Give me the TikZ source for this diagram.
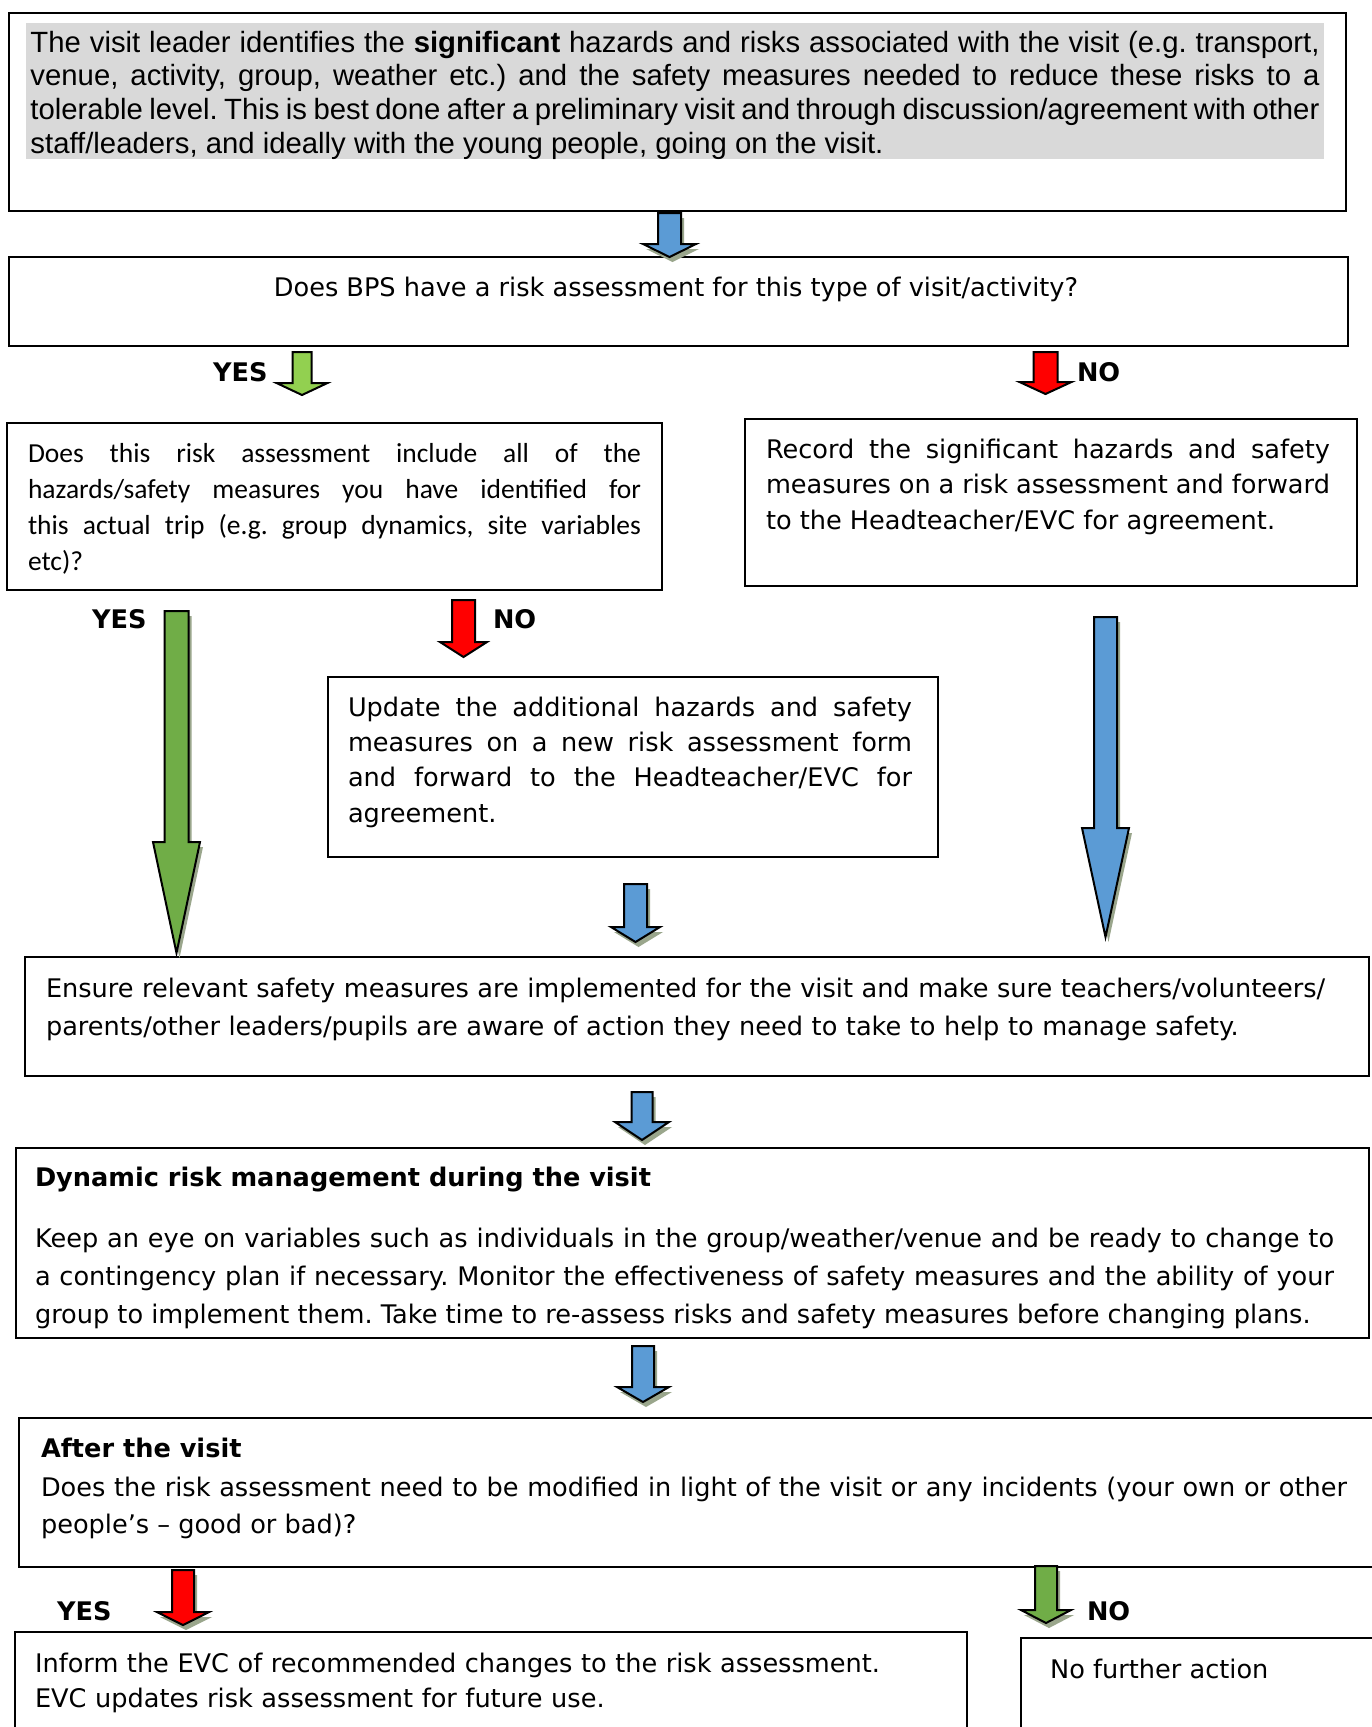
\documentclass[tikz,border=0pt]{standalone}
\usepackage{fontspec}
\setmainfont{DejaVu Sans}
\newfontfamily\arialf{Liberation Sans}
\newfontfamily\calibf{Carlito}
\definecolor{arrblue}{HTML}{5B9BD5}
\definecolor{arrlgreen}{HTML}{92D050}
\definecolor{arrgreen}{HTML}{70AD47}
\definecolor{arrred}{HTML}{FF0000}
\definecolor{arrshadow}{HTML}{9AA68C}
\definecolor{hlgray}{HTML}{D9D9D9}
\hbadness=10000 \hfuzz=40pt \tolerance=9999
\frenchspacing
\newcommand{\arrpath}[6]{({#1-#3},{#2}) -- ({#1+#3},{#2}) -- ({#1+#3},{#5}) -- ({#1+#4},{#5}) -- ({#1},{#6}) -- ({#1-#4},{#5}) -- ({#1-#3},{#5}) -- cycle}
% color, cx, top, shaft half, head half, head base, tip
\newcommand{\blockarr}[7]{\draw[arrline, fill=#1] \arrpath{#2}{#3}{#4}{#5}{#6}{#7};}
\newcommand{\blockarrsh}[7]{\fill[arrshadow, shift={(3,5)}] \arrpath{#2}{#3}{#4}{#5}{#6}{#7};
  \draw[arrline, fill=#1] \arrpath{#2}{#3}{#4}{#5}{#6}{#7};}
\begin{document}
\begin{tikzpicture}[x=1pt,y=-1pt,
  box/.style={draw=black, line width=2pt, anchor=north west, inner sep=0pt, outer sep=0pt},
  arrline/.style={draw=black, line width=2pt, line join=miter},
  txt/.style={anchor=north west, inner sep=0pt, outer sep=0pt, align=justify,
     font={\frenchspacing\fontsize{25.6}{#1}\selectfont}},
  txtl/.style={anchor=north west, inner sep=0pt, outer sep=0pt, align=left,
     font={\frenchspacing\fontsize{25.6}{#1}\selectfont}},
  lbl/.style={anchor=base west, inner sep=0pt, outer sep=0pt, font={\fontsize{25.6}{30}\selectfont\bfseries}}
]
\clip (0,0) rectangle (1372,1727);
\useasboundingbox (0,0) rectangle (1372,1727);
\fill[white] (0,0) rectangle (1372,1727);

% boxes
\node[box, minimum width=1337pt, minimum height=198pt] (b1) at (9,13) {};
\node[box, minimum width=1339pt, minimum height=89pt] (b2) at (9,257) {};
\node[box, minimum width=655pt, minimum height=167pt] (b3) at (7,423) {};
\node[box, minimum width=612pt, minimum height=167pt] (b4) at (745,419) {};
\node[box, minimum width=610pt, minimum height=180pt] (b5) at (328,677) {};
\node[box, minimum width=1344pt, minimum height=119pt] (b6) at (25,957) {};
\node[box, minimum width=1353pt, minimum height=190pt] (b7) at (16,1148) {};
\node[box, minimum width=1370pt, minimum height=149pt] (b8) at (19,1418) {};
\node[box, minimum width=952pt, minimum height=120pt] (b9) at (15,1632) {};
\node[box, minimum width=370pt, minimum height=120pt] (b10) at (1021,1638) {};

% texts
\fill[hlgray] (26,23) rectangle (1324,159);
\node[anchor=north west, inner sep=0pt, outer sep=0pt, align=justify, text width=1289pt,
  font={\frenchspacing\arialf\fontsize{29.3}{33.7}\selectfont}] (t1) at (30.5,28.6)
 {\strut The visit leader identifies the \textbf{significant} hazards and risks associated with the visit (e.g. transport,\linebreak
  venue, activity, group, weather etc.) and the safety measures needed to reduce these risks to a\linebreak
  tolerable level. This is best done after a preliminary visit and through discussion/agreement with other\linebreak
  staff/leaders, and ideally with the young people, going on the visit.};

\node[anchor=base, inner sep=0pt, font={\fontsize{25.6}{30}\selectfont}] (t2) at (676,296)
 {Does BPS have a risk assessment for this type of visit/activity?};

\node[anchor=north west, inner sep=0pt, outer sep=0pt, align=justify, text width=613pt,
  font={\frenchspacing\calibf\fontsize{27.5}{36}\selectfont}] (t3) at (28,436.8)
 {\strut Does this risk assessment include all of the\linebreak
  hazards/safety measures you have identified for\linebreak
  this actual trip (e.g. group dynamics, site variables\linebreak
  etc)?};

\node[txt=35.5, text width=564pt] (t4) at (766,433.15)
 {\strut Record the significant hazards and safety\linebreak
  measures on a risk assessment and forward\linebreak
  to the Headteacher/EVC for agreement.};

\node[txt=35.2, text width=564pt] (t5) at (348,691.86)
 {\strut Update the additional hazards and safety\linebreak
  measures on a new risk assessment form\linebreak
  and forward to the Headteacher/EVC for\linebreak
  agreement.};

\node[txtl=38, text width=1320pt] (t6) at (46,970.4)
 {\strut Ensure relevant safety measures are implemented for the visit and make sure teachers/volunteers/\\
  parents/other leaders/pupils are aware of action they need to take to help to manage safety.};

\node[lbl] (t7h) at (35,1186) {Dynamic risk management during the visit};
\node[txt=38, text width=1299pt] (t7) at (35,1220.4)
 {\strut Keep an eye on variables such as individuals in the group/weather/venue and be ready to change to\linebreak
  a contingency plan if necessary. Monitor the effectiveness of safety measures and the ability of your\linebreak
  group to implement them. Take time to re-assess risks and safety measures before changing plans.};

\node[lbl] (t8h) at (41,1457) {After the visit};
\node[txt=37.5, text width=1306pt] (t8) at (41,1469.75)
 {\strut Does the risk assessment need to be modified in light of the visit or any incidents (your own or other\linebreak
  people’s – good or bad)?};

\node[txtl=35, text width=900pt] (t9) at (35,1647.5)
 {\strut Inform the EVC of recommended changes to the risk assessment.\\
  EVC updates risk assessment for future use.};

\node[anchor=base west, inner sep=0pt, font={\fontsize{25.6}{30}\selectfont}] (t10) at (1050,1678) {No further action};

% labels
\node[lbl] (yes1) at (213,381) {YES};
\node[lbl] (no1) at (1077,381) {NO};
\node[lbl] (yes2) at (92,628) {YES};
\node[lbl] (no2) at (493,628) {NO};
\node[lbl] (yes3) at (57,1620) {YES};
\node[lbl] (no3) at (1087,1620) {NO};

% block arrows
\blockarrsh{arrblue}{669.5}{213}{11.5}{26.5}{244}{257}
\blockarr{arrlgreen}{302}{352}{9.5}{25.5}{383}{395}
\blockarr{arrred}{1045.5}{352}{12}{26}{382}{394}
\blockarrsh{arrgreen}{176.5}{611}{12}{23.5}{842}{953}
\blockarr{arrred}{463.5}{600}{11.5}{23.5}{642}{657}
\blockarrsh{arrblue}{1105.5}{617}{11.5}{23.5}{828}{937}
\blockarrsh{arrblue}{635.5}{884}{11.5}{24.5}{927}{942}
\blockarrsh{arrblue}{642}{1092}{10.5}{27}{1122}{1140}
\blockarrsh{arrblue}{643}{1346}{11}{26}{1387}{1402}
\blockarrsh{arrred}{183}{1570}{11}{26}{1612}{1625}
\blockarrsh{arrgreen}{1046}{1566}{11}{25}{1610}{1623}
\end{tikzpicture}
\end{document}
